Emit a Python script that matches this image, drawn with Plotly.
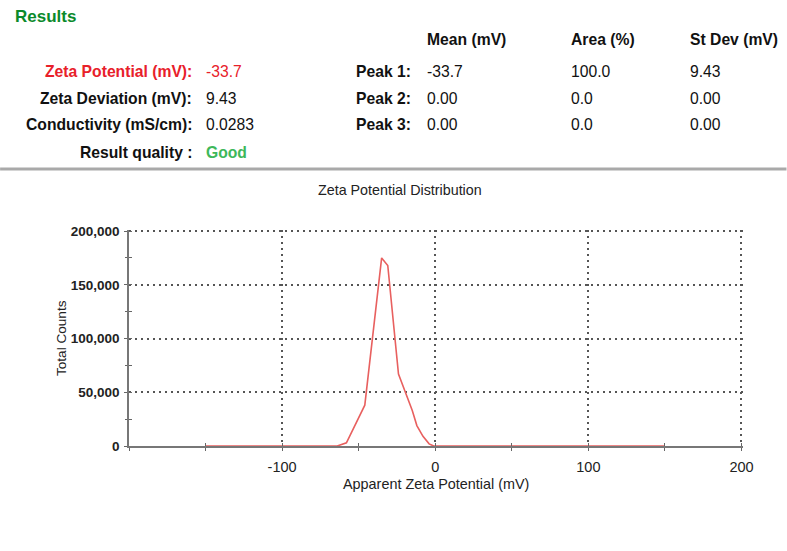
import plotly.graph_objects as go

# ---------------- data ----------------
zeta_mv = [-150, -64, -58, -46, -35, -31, -24, -15, -12, -8, -4, -1, 150]
total_counts = [0, 0, 3000, 38000, 175000, 168000, 67000, 33000, 19000, 9000, 2000, 0, 0]

summary_labels = ["Zeta Potential (mV):", "Zeta Deviation (mV):", "Conductivity (mS/cm):", "Result quality :"]
summary_values = ["-33.7", "9.43", "0.0283", "Good"]
peak_labels = ["Peak 1:", "Peak 2:", "Peak 3:"]
peak_columns = ["Mean (mV)", "Area (%)", "St Dev (mV)"]
peak_mean = ["-33.7", "0.00", "0.00"]
peak_area = ["100.0", "0.0", "0.0"]
peak_stdev = ["9.43", "0.00", "0.00"]

x_ticks = [-100, 0, 100, 200]
x_ticktext = ["-100", "0", "100", "200"]
y_ticks = [0, 50000, 100000, 150000, 200000]

# ---------------- layout geometry ----------------
W, H = 787, 551
L, R, T, B = 129, 43.5, 230, 105
PW, PH = W - L - R, H - T - B
FONT = "Liberation Sans, Arial, Helvetica, sans-serif"


def px(x):
    return (x - L) / PW


def py(y):
    return (H - B - y) / PH


fig = go.Figure()
fig.add_trace(go.Scatter(x=zeta_mv, y=total_counts, mode="lines",
                         line=dict(color="#e8605f", width=1.6),
                         hoverinfo="x+y", showlegend=False))
# invisible trace for overlay axes (inner half of crossing ticks)
fig.add_trace(go.Scatter(x=[zeta_mv[0]], y=[0], xaxis="x2", yaxis="y2",
                         mode="markers", marker=dict(opacity=0),
                         hoverinfo="skip", showlegend=False))

ann = []


def text(x, y, s, size, color="#111", bold=False, anchor="left"):
    ann.append(dict(x=px(x), y=py(y), xref="paper", yref="paper", text=s,
                    showarrow=False, xanchor=anchor, yanchor="middle",
                    font=dict(family=FONT, size=size, color=color,
                              weight="bold" if bold else "normal")))


text(13, 16, "Results", 17, color="#0b8a2b", bold=True)

row_y = [71, 98, 125, 152]
label_colors = ["#e8202a", "#111", "#111", "#111"]
value_colors = ["#e8202a", "#111", "#111", "#3db85a"]
for i, (lab, val) in enumerate(zip(summary_labels, summary_values)):
    text(194, row_y[i], lab, 15.7, color=label_colors[i], bold=True, anchor="right")
    text(204, row_y[i], val, 15.7, color=value_colors[i], bold=(i == 3))

col_x = [425, 569, 688]
for cx, head in zip(col_x, peak_columns):
    text(cx, 39, head, 15.7, bold=True)
for i, lab in enumerate(peak_labels):
    text(413, row_y[i], lab, 15.7, bold=True, anchor="right")
    text(col_x[0], row_y[i], peak_mean[i], 15.7)
    text(col_x[1], row_y[i], peak_area[i], 15.7)
    text(col_x[2], row_y[i], peak_stdev[i], 15.7)

text(400, 190, "Zeta Potential Distribution", 14.3, color="#222", anchor="center")
text(436, 484, "Apparent Zeta Potential (mV)", 14.4, color="#222", anchor="center")
ann.append(dict(x=px(61), y=py(338), xref="paper", yref="paper", text="Total Counts",
                showarrow=False, textangle=-90, xanchor="center", yanchor="middle",
                font=dict(family=FONT, size=13.6, color="#222")))

shapes = [dict(type="line", xref="paper", yref="paper", x0=px(0), x1=px(W),
               y0=py(169), y1=py(169), line=dict(color="#a9a9a9", width=3))]

grid_style = dict(showgrid=True, gridcolor="#555", gridwidth=1.5, griddash="1.5px,4.5px")

fig.update_layout(
    width=W, height=H, autosize=False,
    margin=dict(l=L, r=R, t=T, b=B, pad=0),
    paper_bgcolor="white", plot_bgcolor="white",
    font=dict(family=FONT, color="#222"),
    annotations=ann, shapes=shapes,
    xaxis=dict(range=[-200, 201], tickmode="array", tickvals=x_ticks, ticktext=x_ticktext,
               ticks="outside", ticklen=3, tickcolor="#666", tickwidth=1.2,
               minor=dict(dtick=50, tick0=0, ticks="outside", ticklen=3, tickcolor="#666", showgrid=False),
               showline=True, linecolor="#777", linewidth=1.5, zeroline=False,
               tickfont=dict(family=FONT, size=14.5, color="#222"), ticklabelstandoff=4,
               **grid_style),
    yaxis=dict(range=[0, 201000], tickmode="array", tickvals=y_ticks, tickformat=",d",
               ticks="outside", ticklen=3, tickcolor="#666", tickwidth=1.2,
               minor=dict(dtick=25000, tick0=0, ticks="outside", ticklen=2, tickcolor="#666", showgrid=False),
               showline=True, linecolor="#777", linewidth=1.5, zeroline=False,
               tickfont=dict(family=FONT, size=13.5, color="#222", weight="bold"), ticklabelstandoff=2,
               **grid_style),
    xaxis2=dict(overlaying="x", matches="x", anchor="y2", ticks="inside", ticklen=3,
                tickcolor="#666", tickwidth=1.2, tickmode="array", tickvals=x_ticks,
                minor=dict(dtick=50, tick0=0, ticks="inside", ticklen=3, tickcolor="#666", showgrid=False),
                showticklabels=False, showgrid=False, zeroline=False, showline=False),
    yaxis2=dict(overlaying="y", matches="y", anchor="x2", side="left", ticks="inside", ticklen=3,
                tickcolor="#666", tickwidth=1.2, tickmode="array", tickvals=y_ticks,
                minor=dict(dtick=25000, tick0=0, ticks="inside", ticklen=3, tickcolor="#666", showgrid=False),
                showticklabels=False, showgrid=False, zeroline=False, showline=False),
)

fig.write_html("out.html")
